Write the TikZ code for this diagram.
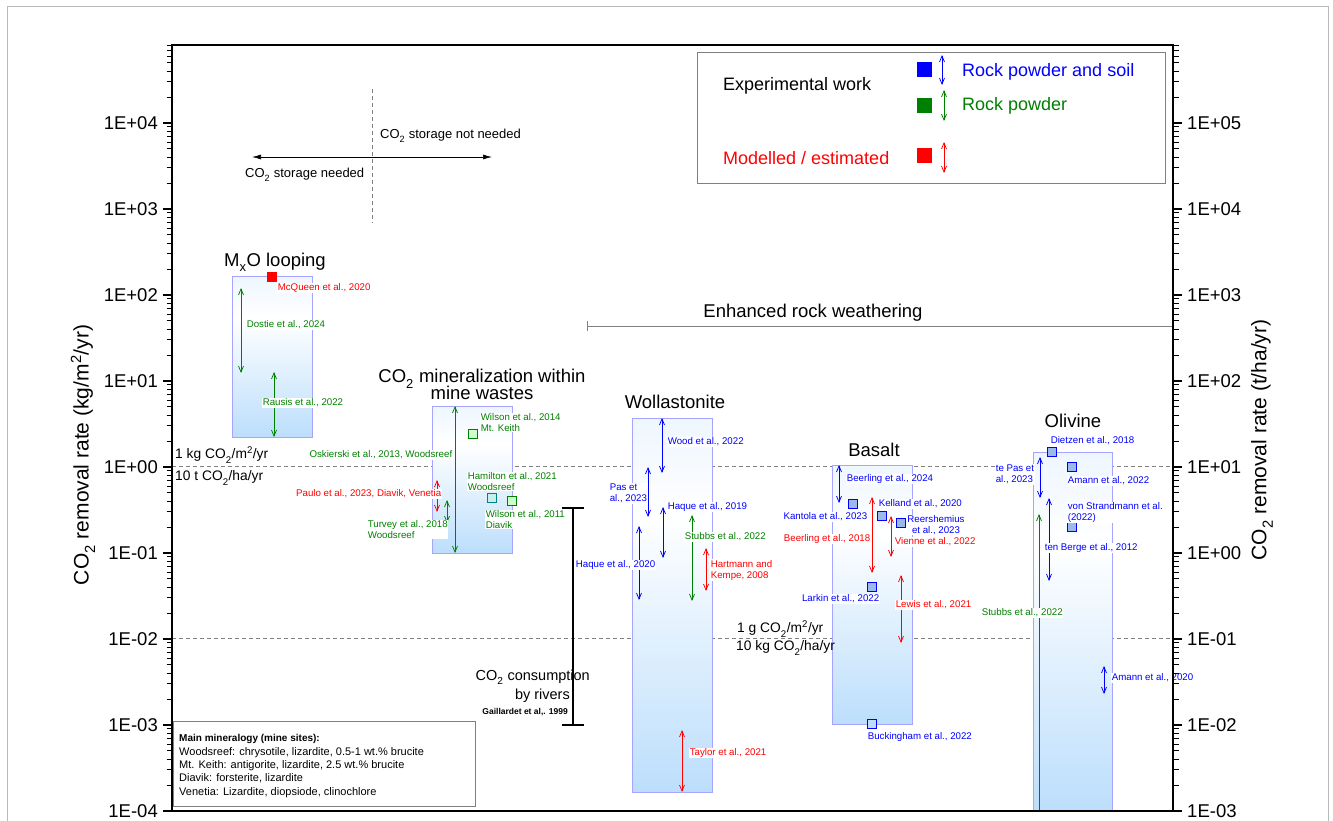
\documentclass[tikz,border=0pt]{standalone}
\usepackage{fontspec}
\setmainfont{Liberation Sans}
\usetikzlibrary{arrows.meta}
\definecolor{bl}{RGB}{0,0,255}
\definecolor{gr}{RGB}{0,128,0}
\definecolor{rd}{RGB}{255,0,0}
\definecolor{boxedge}{RGB}{165,165,255}
\definecolor{boxbot}{RGB}{188,222,252}
\definecolor{boxtop}{RGB}{238,246,255}
\definecolor{sqbl}{RGB}{155,185,235}
\definecolor{sqgr}{RGB}{204,255,204}
\definecolor{sqteal}{RGB}{200,240,235}
\definecolor{frame}{RGB}{185,185,185}
\pgfdeclareverticalshading{boxshade}{100bp}{color(0bp)=(boxbot); color(25bp)=(boxbot); color(62bp)=(white); color(75bp)=(boxtop); color(100bp)=(boxtop)}
\newcommand{\vda}[4]{\draw[dar,#1] (#2,#3) -- (#2,#4);}
\newcommand{\msq}[5]{\node[sq,draw=#1,fill=#2] (#3) at (#4,#5) {};}
\newcommand{\lsub}[1]{\raisebox{-0.3ex}{\textsubscript{#1}}}
\tikzset{
  lbl/.style={fill=white, inner sep=0.6pt, font=\fontsize{9.7}{11}\selectfont},
  dar/.style={{Straight Barb[length=6pt,width=5pt]}-{Straight Barb[length=6pt,width=5pt]}, line width=0.75pt},
  sq/.style={minimum size=9pt, inner sep=0pt, line width=0.8pt},
  ttl/.style={font=\fontsize{18.5}{20}\selectfont, anchor=base, inner sep=0pt},
  tkl/.style={font=\fontsize{18.5}{20}\selectfont, inner sep=0pt},
  axl/.style={line width=1.4pt},
  gdash/.style={gray, line width=0.8pt, dash pattern=on 4pt off 3pt},
  rngbox/.style={draw=boxedge, line width=0.8pt, shade, shading=boxshade},
  mid/.style={font=\fontsize{13.8}{16}\selectfont, inner sep=0pt},
  lgd/.style={font=\fontsize{18}{20}\selectfont, inner sep=0pt},
}
\begin{document}
\begin{tikzpicture}[x=1pt,y=-1pt]
\useasboundingbox (0,0) rectangle (1333,821);
\fill[white] (0,0) rectangle (1333,821);
% outer frame
\draw[frame, line width=1pt] (7,821) -- (7,7) -- (1328,7) -- (1328,821);

% reference dashed lines
\draw[gdash] (172,466) -- (1173,466);
\draw[gdash] (172,638) -- (1173,638);
\draw[gdash] (372,89) -- (372,223);

% storage arrow
\coordinate (sl) at (252,157);
\coordinate (sr) at (492,157);
\draw[{Latex[length=9pt,width=5pt]}-{Latex[length=9pt,width=5pt]}, line width=0.7pt] (sl) -- (sr);
\node[anchor=west, font=\fontsize{13}{15}\selectfont, inner sep=0pt] (snotneed) at (380,136) {CO\lsub{2} storage not needed};
\node[anchor=west, font=\fontsize{13}{15}\selectfont, inner sep=0pt] (sneed) at (245,175) {CO\lsub{2} storage needed};

% legend
\node[draw=gray, line width=0.8pt, minimum width=468pt, minimum height=131pt, anchor=north west, inner sep=0pt] (legend) at (697,52) {};
\node[lgd, anchor=west] (lexp) at (723,86) {Experimental work};
\node[fill=bl, minimum size=15pt, inner sep=0pt] (lsqb) at (924.5,69.5) {};
\vda{bl}{942}{55}{85}
\node[lgd, anchor=west, text=bl] (lrps) at (962,72) {Rock powder and soil};
\node[fill=gr, minimum size=15pt, inner sep=0pt] (lsqg) at (924.5,106) {};
\vda{gr}{944}{90}{121}
\node[lgd, anchor=west, text=gr] (lrp) at (962,106) {Rock powder};
\node[lgd, anchor=west, text=rd] (lmod) at (723,158) {Modelled / estimated};
\node[fill=rd, minimum size=15pt, inner sep=0pt] (lsqr) at (924.5,156) {};
\vda{rd}{944}{142}{173}

% ---------------- MxO looping
\path[rngbox] (232,276) rectangle (312,437);
\node[ttl] (tmxo) at (275,266) {M\lsub{x}O looping};
\vda{gr}{241}{288}{373}
\vda{gr}{274}{372}{437}
\msq{rd}{rd}{mcq}{272}{277}
\node[lbl, anchor=west, text=rd] (lmcq) at (277,288) {McQueen et al., 2020};
\node[lbl, anchor=west, text=gr] (ldos) at (246,325) {Dostie et al., 2024};
\node[lbl, anchor=west, text=gr] (lrau) at (262,403) {Rausis et al., 2022};

% ---------------- mine wastes
\path[rngbox] (432,406) rectangle (512,553);
\node[ttl] (tmw1) at (482,382) {CO\lsub{2} mineralization within};
\node[ttl] (tmw2) at (482,399) {mine wastes};
\vda{gr}{455}{406}{553}
\vda{rd}{437}{480}{512}
\vda{gr}{447}{500}{523}
\node[lbl, anchor=east, text=gr] (losk) at (453,455) {Oskierski et al., 2013, Woodsreef};
\msq{gr}{sqgr}{wil14}{472.5}{433.5}
\node[lbl, anchor=west, text=gr, align=left] (lwil14) at (480,422.5) {Wilson et al., 2014\\Mt. Keith};
\node[lbl, anchor=west, text=gr, align=left] (lham) at (467,481.5) {Hamilton et al., 2021\\Woodsreef};
\msq{teal}{sqteal}{ham}{492}{497.5}
\msq{gr}{sqgr}{wil11}{512}{501}
\node[lbl, anchor=west, text=gr, align=left] (lwil11) at (485,519.5) {Wilson et al., 2011\\Diavik};
\node[lbl, anchor=east, text=rd] (lpau) at (442,494) {Paulo et al., 2023, Diavik, Venetia};
\node[lbl, anchor=west, text=gr, align=left] (ltur) at (367,529.5) {Turvey et al., 2018\\Woodsreef};

% ---------------- rivers
\draw[line width=1.5pt] (573,508) -- (573,725);
\draw[line width=1.5pt] (562,508) -- (584,508);
\draw[line width=1.5pt] (562,725) -- (584,725);
\node[anchor=base east, font=\fontsize{14.5}{16}\selectfont, inner sep=0pt] (riv1) at (590,680) {CO\lsub{2} consumption};
\node[anchor=base east, font=\fontsize{14.5}{16}\selectfont, inner sep=0pt] (riv2) at (570,699) {by rivers};
\node[anchor=base east, font=\bfseries\fontsize{8.5}{10}\selectfont, inner sep=0pt] (riv3) at (568,714) {Gaillardet et al,. 1999};

% ---------------- mineralogy box
\node[draw=gray, fill=white, line width=0.8pt, minimum width=302pt, minimum height=85pt, anchor=north west, inner sep=0pt] (minbox) at (173,721) {};
\begin{scope}[every node/.style={anchor=base west, font=\fontsize{11}{12}\selectfont, inner sep=0pt}]
\node[font=\bfseries\fontsize{10}{12}\selectfont] (m0) at (179,741) {Main mineralogy (mine sites):};
\node (m1) at (179,755) {Woodsreef: chrysotile, lizardite, 0.5-1 wt.\% brucite};
\node (m2) at (179,768.5) {Mt. Keith: antigorite, lizardite, 2.5 wt.\% brucite};
\node (m3) at (179,781.5) {Diavik: forsterite, lizardite};
\node (m4) at (179,795) {Venetia: Lizardite, diopsiode, clinochlore};
\end{scope}

% ---------------- Wollastonite
\path[rngbox] (632,418) rectangle (712,792);
\node[ttl] (twol) at (675,408) {Wollastonite};
\vda{bl}{662}{418}{473}
\vda{bl}{648}{467}{517}
\vda{bl}{663}{507}{558}
\vda{bl}{639}{526}{600}
\vda{gr}{692}{515}{601}
\vda{rd}{706}{548}{591}
\vda{rd}{682}{730}{792}
\node[lbl, anchor=west, text=bl] (lwood) at (667,442) {Wood et al., 2022};
\node[lbl, anchor=west, text=bl, align=left] (lpas) at (609,493.5) {Pas et\\al., 2023};
\node[lbl, anchor=west, text=bl] (lhq19) at (667,507) {Haque et al., 2019};
\node[lbl, anchor=east, text=bl] (lhq20) at (656,565) {Haque et al., 2020};
\node[lbl, anchor=west, text=gr] (lstw) at (684,537) {Stubbs et al., 2022};
\node[lbl, anchor=west, text=rd, align=left] (lhar) at (710,570) {Hartmann and\\Kempe, 2008};
\node[lbl, anchor=west, text=rd] (ltay) at (689,753) {Taylor et al., 2021};

% ---------------- Basalt
\path[rngbox] (832,465) rectangle (912,724);
\node[ttl] (tbas) at (874,456) {Basalt};
\vda{bl}{839}{465}{503}
\vda{rd}{872}{497}{573}
\vda{rd}{891}{516}{557}
\vda{rd}{901}{575}{643}
\node[lbl, anchor=west, text=bl] (lbe24) at (846,479) {Beerling et al., 2024};
\msq{bl}{sqbl}{kan}{853}{503.5}
\node[lbl, anchor=east, text=bl] (lkan) at (868,517) {Kantola et al., 2023};
\node[lbl, anchor=east, text=rd] (lbe18) at (871,539) {Beerling et al., 2018};
\msq{bl}{sqbl}{kel}{882}{516}
\node[lbl, anchor=west, text=bl] (lkel) at (878,504) {Kelland et al., 2020};
\node[lbl, anchor=west, text=rd] (lvie) at (894,542) {Vienne et al., 2022};
\msq{bl}{sqbl}{ree}{901}{523}
\node[lbl, text=bl, align=center] (lree) at (936,525) {Reershemius\\et al., 2023};
\msq{bl}{sqbl}{lar}{872}{587}
\node[lbl, anchor=east, text=bl] (llar) at (880,599) {Larkin et al., 2022};
\node[lbl, anchor=west, text=rd] (llew) at (895,605) {Lewis et al., 2021};
\msq{bl}{boxbot}{buc}{872}{724}
\node[lbl, anchor=west, text=bl] (lbuc) at (867,737) {Buckingham et al., 2022};

% reference line labels
\node[mid, anchor=west] (r1a) at (175,455) {1 kg CO\lsub{2}/m\textsuperscript{2}/yr};
\node[mid, anchor=west] (r1b) at (175,478) {10 t CO\lsub{2}/ha/yr};
\node[mid, anchor=west] (r2a) at (737,629) {1 g CO\lsub{2}/m\textsuperscript{2}/yr};
\node[mid, anchor=west] (r2b) at (736,648) {10 kg CO\lsub{2}/ha/yr};

% ---------------- Olivine
\path[rngbox] (1033,452) rectangle (1112,811);
\node[ttl] (toli) at (1073,427) {Olivine};
\vda{bl}{1040}{457}{498}
\vda{bl}{1049}{498}{581}
\vda{bl}{1104}{666}{694}
\draw[gr, line width=0.75pt, {Straight Barb[length=6pt,width=5pt]}-] (1039,514) -- (1039,811);
\msq{bl}{sqbl}{die}{1052}{452}
\node[lbl, anchor=west, text=bl] (ldie) at (1050,441) {Dietzen et al., 2018};
\node[lbl, anchor=west, text=bl, align=left] (ltep) at (995,474.5) {te Pas et\\al., 2023};
\msq{bl}{sqbl}{am22}{1072}{467}
\node[lbl, anchor=west, text=bl] (lam22) at (1067,481) {Amann et al., 2022};
\msq{bl}{sqbl}{vst}{1072}{527}
\node[lbl, anchor=west, text=bl, align=left] (lvst) at (1067,512.5) {von Strandmann et al.\\(2022)};
\node[lbl, anchor=west, text=bl] (lteb) at (1044,548) {ten Berge et al., 2012};
\node[lbl, anchor=west, text=gr] (lsto) at (981,613) {Stubbs et al., 2022};
\node[lbl, anchor=west, text=bl] (lam20) at (1111,678) {Amann et al., 2020};

% ---------------- ERW
\draw[gray, line width=0.8pt] (587,326) -- (1173,326);
\draw[gray, line width=0.8pt] (587,321) -- (587,331);
\node[ttl] (terw) at (813,317) {Enhanced rock weathering};

% ---------------- axes
\draw[axl] (172,45) rectangle (1173,811);
\foreach \d in {-4,...,4} {
  \foreach \m in {2,...,9} {
    \pgfmathsetmacro\yy{811-86*(\d+4+log10(\m))}
    \ifdim\yy pt>45pt
      \draw[line width=1pt] (166.5,\yy) -- (172,\yy);
      \draw[line width=1pt] (1173,\yy) -- (1178.5,\yy);
    \fi
  }
}
\foreach \d/\ll/\rl [count=\i] in {-4/1E-04/1E-03, -3/1E-03/1E-02, -2/1E-02/1E-01, -1/1E-01/1E+00, 0/1E+00/1E+01, 1/1E+01/1E+02, 2/1E+02/1E+03, 3/1E+03/1E+04, 4/1E+04/1E+05} {
  \pgfmathsetmacro\yy{811-86*(\d+4)}
  \draw[axl] (163,\yy) -- (172,\yy);
  \draw[axl] (1173,\yy) -- (1182,\yy);
  \node[tkl, anchor=east] (lt\i) at (158,\yy) {\ll};
  \node[tkl, anchor=west] (rt\i) at (1187,\yy) {\rl};
}
\node[font=\fontsize{21}{24}\selectfont, rotate=90, inner sep=0pt] (ylab) at (83,455) {CO\lsub{2} removal rate (kg/m\textsuperscript{2}/yr)};
\node[font=\fontsize{21}{24}\selectfont, rotate=90, inner sep=0pt] (ylab2) at (1262,440) {CO\lsub{2} removal rate (t/ha/yr)};
\end{tikzpicture}
\end{document}
